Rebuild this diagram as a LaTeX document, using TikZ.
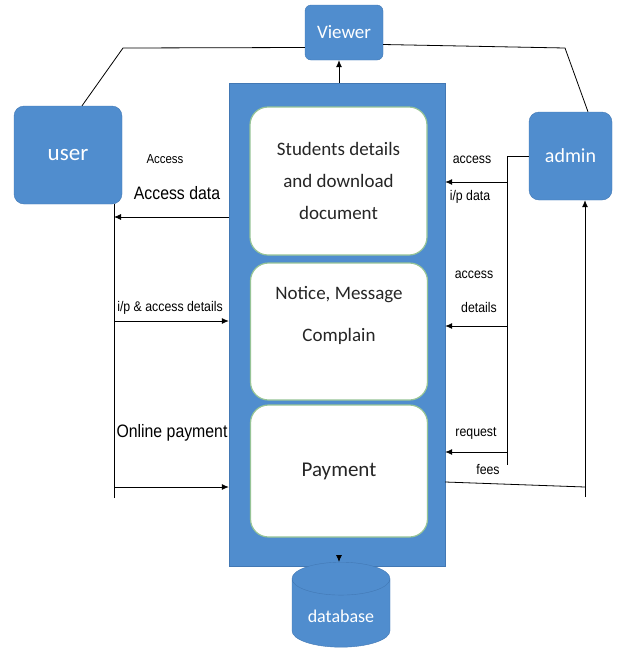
\documentclass[tikz,border=0pt]{standalone}
\usepackage{fontspec}
\setmainfont{Carlito}
\newfontfamily\lblfont[FakeStretch=0.88]{Liberation Sans}
\usepackage{tikz}
\usetikzlibrary{positioning,arrows.meta,shapes.geometric}
\definecolor{boxblue}{RGB}{80,141,206}
\definecolor{edgeblue}{RGB}{66,120,180}
\definecolor{edgegreen}{RGB}{150,196,150}
\tikzset{
  bluebox/.style={rectangle, rounded corners=10pt, fill=boxblue, draw=edgeblue, text=white, font=\fontsize{20}{22}\selectfont, inner sep=0pt},
  inbox/.style={rectangle, rounded corners=18pt, fill=white, draw=edgegreen, line width=1.2pt, minimum width=177pt, align=center, font=\fontsize{19}{32}\selectfont, text=black!85},
  boxtxt/.style={align=center, font=\fontsize{19}{22}\selectfont, text=black!85, inner sep=0pt},
  fwd/.style={-{Latex[length=7pt,width=6pt]}, line width=0.8pt},
  link/.style={line width=0.8pt},
  lbl/.style={font=\lblfont\fontsize{14}{16}\selectfont, inner sep=0pt},
  biglbl/.style={font=\lblfont\fontsize{18}{20}\selectfont, inner sep=0pt},
}

\begin{document}
\begin{tikzpicture}[x=1pt, y=-1pt]
  \useasboundingbox (0,0) rectangle (624,649);

  \node[bluebox, minimum width=78pt, minimum height=55pt, rounded corners=6pt, font=\fontsize{19}{22}\selectfont] (viewer) at (344,32.5) {Viewer};
  \node[bluebox, minimum width=108pt, minimum height=98pt, font=\fontsize{23}{26}\selectfont] (user) at (68,155) {user};
  \node[bluebox, minimum width=83pt, minimum height=88pt] (admin) at (570.5,156) {admin};
  \node[rectangle, fill=boxblue, draw=edgeblue, minimum width=216pt, minimum height=483pt] (main) at (337,324.5) {};

  \node[inbox, minimum height=148pt] (stud) at (338.5,181) {Students details\\and download\\document};
  \node[inbox, minimum height=137pt] (notice) at (339,331.5) {};
  \node[boxtxt] (noticetxt) at ([yshift=16pt]notice.center) {Notice, Message\\[20pt]Complain};
  \node[inbox, minimum height=132pt, font=\fontsize{21}{24}\selectfont] (pay) at (339,471) {Payment};

  \node[cylinder, shape border rotate=90, aspect=0.45, fill=boxblue, draw=edgeblue, minimum width=98pt, minimum height=85pt, text=white, font=\fontsize{18}{20}\selectfont] (db) at (341,616) {\raisebox{-5pt}{database}};

  % user side
  \coordinate (uv) at (123,48);
  \coordinate (ubot) at (114,498);
  \coordinate (u1) at (114,217);
  \coordinate (u2) at (114,321);
  \coordinate (u3) at (114,487);
  \draw[link] ([xshift=14pt]user.north) -- (uv) -- ([yshift=-15pt]viewer.west);
  \draw[link] (ubot) -- (ubot |- user.south);
  \draw[fwd] (main.west |- u1) -- (u1);
  \draw[fwd] (u2) -- (u2 -| main.west);
  \draw[fwd] (u3) -- (u3 -| main.west);

  % admin side
  \coordinate (va) at (565,48);
  \coordinate (abot) at (507,465);
  \coordinate (a1) at (507,182);
  \coordinate (a2) at (507,326);
  \coordinate (a3) at (507,452);
  \coordinate (pend) at (585,487);
  \coordinate (pbot) at (585,497);
  \draw[link] ([yshift=-12pt]viewer.east) -- (va) -- ([xshift=17.5pt]admin.north);
  \draw[link] (admin.west) -| (abot);
  \draw[fwd] (a1) -- (a1 -| main.east);
  \draw[fwd] (a2) -- (a2 -| main.east);
  \draw[fwd] (a3) -- (a3 -| main.east);
  \draw[link] ([yshift=-157.5pt]main.east) -- (pend);
  \draw[fwd] (pbot) -- (pbot |- admin.south);

  % viewer and database
  \draw[fwd] ([xshift=2pt]main.north) -- ([xshift=2pt]main.north |- viewer.south);
  \draw[fwd] ([xshift=2pt,yshift=11pt]main.south) -- ([xshift=2pt]main.south |- db.top);

  % labels
  \node[lbl, font=\lblfont\fontsize{13}{15}\selectfont] (lacc) at (165,159) {Access};
  \node[biglbl] (laccdata) at (177,193) {Access data};
  \node[lbl] (lipacc) at (170,308) {i/p \& access details};
  \node[biglbl] (lonline) at (172,433) {Online payment};
  \node[lbl] (lacc2) at (472,160) {access};
  \node[lbl] (lipdata) at (470,197) {i/p data};
  \node[lbl] (lacc3) at (474,275) {access};
  \node[lbl] (ldetails) at (479,307) {details};
  \node[lbl] (lrequest) at (476,433) {request};
  \node[lbl] (lfees) at (488,469) {fees};

\end{tikzpicture}
\end{document}
